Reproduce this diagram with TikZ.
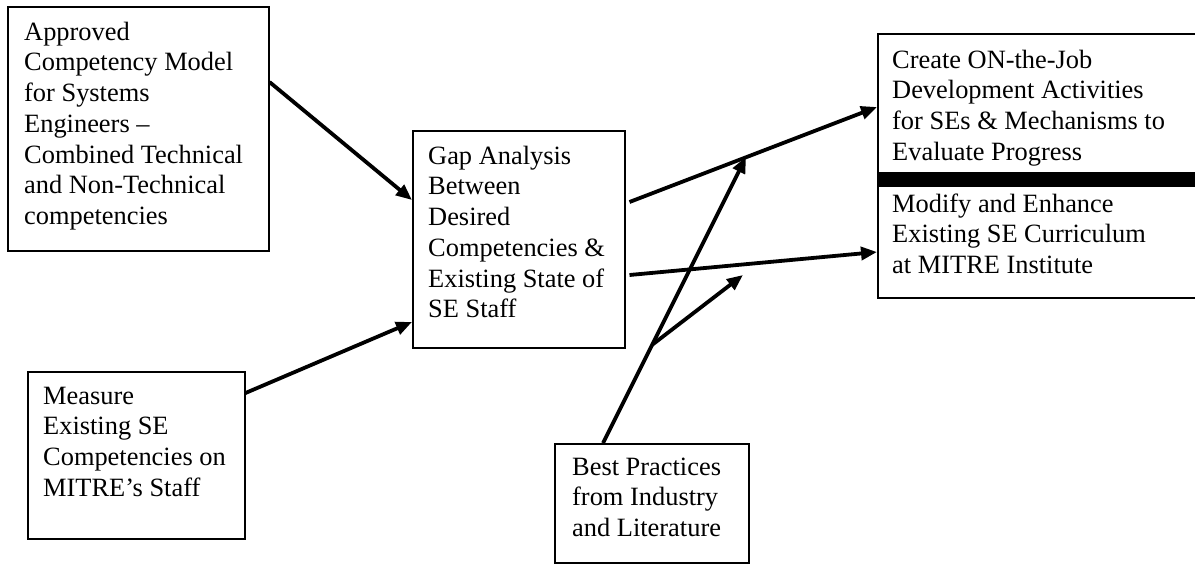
\documentclass[tikz,border=0pt]{standalone}
\usepackage{fontspec}
\setmainfont{Liberation Serif}
\usetikzlibrary{arrows.meta,calc}
\newcommand\tstrut{\rule{0pt}{20pt}}
\tikzset{
  boxnode/.style={draw,line width=1.5pt,rectangle,inner sep=0pt,anchor=north west},
  txt/.style={inner sep=0pt,anchor=north west,align=left,font=\fontsize{26.4}{30.7}\selectfont},
  arr/.style={line width=3.8pt,-{Triangle[length=16pt,width=13pt]}},
  plain/.style={line width=3.8pt}
}
\begin{document}
\begin{tikzpicture}[x=1pt,y=-1pt]
\useasboundingbox (0,0) rectangle (1195,563);
% boxes
\node[boxnode,minimum width=261pt,minimum height=244pt] (b1) at (7,6) {};
\node[boxnode,minimum width=212pt,minimum height=217pt] (gap) at (412,130) {};
\node[boxnode,minimum width=217pt,minimum height=167pt] (meas) at (27,371) {};
\node[boxnode,minimum width=194pt,minimum height=119pt] (best) at (554,443) {};
\node[boxnode,minimum width=330pt,minimum height=264pt] (right) at (877,33) {};
\node[fill=black,inner sep=0pt,anchor=north west,minimum width=330pt,minimum height=15pt] (bar) at (877,172) {};
% texts
\node[txt] (t1) at ($(b1.north west)+(17,14)$) {\tstrut Approved\\Competency Model\\for Systems\\Engineers –\\Combined Technical\\and Non-Technical\\competencies};
\node[txt] (t2) at ($(gap.north west)+(16,14)$) {\tstrut Gap Analysis\\Between\\Desired\\Competencies \&\\Existing State of\\SE Staff};
\node[txt] (t3) at ($(meas.north west)+(16,13)$) {\tstrut Measure\\Existing SE\\Competencies on\\MITRE’s Staff};
\node[txt] (t4) at ($(best.north west)+(18,12)$) {\tstrut Best Practices\\from Industry\\and Literature};
\node[txt] (t5) at ($(right.north west)+(15,15)$) {\tstrut Create ON-the-Job\\Development Activities\\for SEs \& Mechanisms to\\Evaluate Progress};
\node[txt] (t6) at ($(right.north west)+(15,159)$) {\tstrut Modify and Enhance\\Existing SE Curriculum\\at MITRE Institute};
% connectors
\coordinate (tipA) at (746,157);
\coordinate (tipB) at (743,275);
\coordinate (bstart) at ($(best.north west)+(49,0)$);
\coordinate (split) at ($(bstart)!0.343!(tipA)$);
\draw[arr] ($(b1.north east)+(0,76)$) -- ($(gap.north west)+(0,70)$);
\draw[arr] ($(meas.north east)+(0,22)$) -- ($(gap.north west)+(0,192)$);
\draw[arr] ($(gap.north east)+(4,72)$) -- ($(right.north west)+(0,74)$);
\draw[arr] ($(gap.north east)+(4,145)$) -- ($(right.north west)+(0,219)$);
\draw[arr] (bstart) -- (tipA);
\draw[arr] (split) -- (tipB);
\end{tikzpicture}
\end{document}
